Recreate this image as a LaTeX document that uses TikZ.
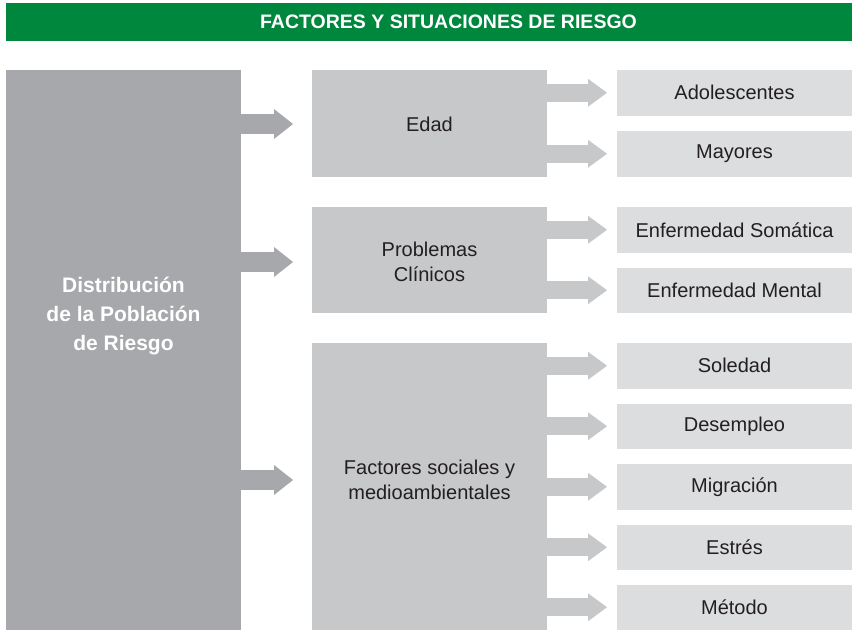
\documentclass[tikz,border=0pt]{standalone}
\usepackage{fontspec}
\setmainfont{Liberation Sans}
\usetikzlibrary{arrows.meta}
\definecolor{hdrgreen}{HTML}{00873E}
\definecolor{darkgrey}{HTML}{A7A8AB}
\definecolor{midgrey}{HTML}{C7C8CA}
\definecolor{lightgrey}{HTML}{DCDDDE}
\definecolor{txt}{HTML}{231F20}
\tikzset{
  box/.style={anchor=north west, inner sep=0pt, outer sep=0pt, align=center},
  leftbox/.style={box, fill=darkgrey, minimum width=235pt, minimum height=560pt},
  midbox/.style={box, fill=midgrey, minimum width=235pt, text=txt, font=\fontsize{20}{24}\selectfont},
  rightbox/.style={box, fill=lightgrey, minimum width=235pt, minimum height=45.5pt, text=txt, font=\fontsize{20}{24}\selectfont},
  bigarrow/.style={darkgrey, line width=20pt, -{Triangle[length=19pt,width=30pt,line width=0pt]}, shorten >=19pt},
  smallarrow/.style={midgrey, line width=18pt, -{Triangle[length=19pt,width=28pt,line width=0pt]}, shorten >=10pt},
}
\begin{document}
\begin{tikzpicture}[x=1pt,y=-1pt]
\useasboundingbox (0,0) rectangle (852,630);
% header
\node[box, fill=hdrgreen, minimum width=846pt, minimum height=38pt] (hdr) at (6,3) {};
\node[text=white, inner sep=0pt, font=\bfseries\fontsize{19.5}{22}\selectfont] (hdrtext) at (448.5,22) {FACTORES Y SITUACIONES DE RIESGO};
% left column
\node[leftbox] (L) at (6,70) {};
\node[text=white, align=center, font=\bfseries\fontsize{21}{29}\selectfont] (Ltext) at (123.5,316) {Distribución\\de la Población\\de Riesgo};
% middle column
\node[midbox, minimum height=107pt] (E) at (312,70) {};
\node[text=txt, font=\fontsize{20}{24}\selectfont] (Etext) at (429.5,124) {Edad};
\node[midbox, minimum height=106pt] (P) at (312,207) {};
\node[text=txt, align=center, font=\fontsize{20}{25}\selectfont] (Ptext) at (429.5,262) {Problemas\\Clínicos};
\node[midbox, minimum height=287pt] (F) at (312,343) {};
\node[text=txt, align=center, font=\fontsize{20}{25}\selectfont] (Ftext) at (429.5,480) {Factores sociales y\\medioambientales};
% right column
\node[rightbox] (R1) at (617,70) {Adolescentes};
\node[rightbox] (R2) at (617,131) {Mayores};
\node[rightbox] (R3) at (617,207) {Enfermedad Somática};
\node[rightbox] (R4) at (617,267.5) {Enfermedad Mental};
\node[rightbox] (R5) at (617,343) {Soledad};
\node[rightbox] (R6) at (617,403.5) {Desempleo};
\node[rightbox] (R7) at (617,464) {Migración};
\node[rightbox] (R8) at (617,524.5) {Estrés};
\node[rightbox] (R9) at (617,584.5) {Método};
% arrows left -> middle
\draw[bigarrow] (L.east |- Etext) -- (E.west |- Etext);
\draw[bigarrow] (L.east |- Ptext) -- (P.west |- Ptext);
\draw[bigarrow] (L.east |- Ftext) -- (F.west |- Ftext);
% arrows middle -> right
\foreach \m/\r in {E/R1,E/R2,P/R3,P/R4,F/R5,F/R6,F/R7,F/R8,F/R9}
  \draw[smallarrow] (\m.east |- \r.west) -- (\r.west);
\end{tikzpicture}
\end{document}
